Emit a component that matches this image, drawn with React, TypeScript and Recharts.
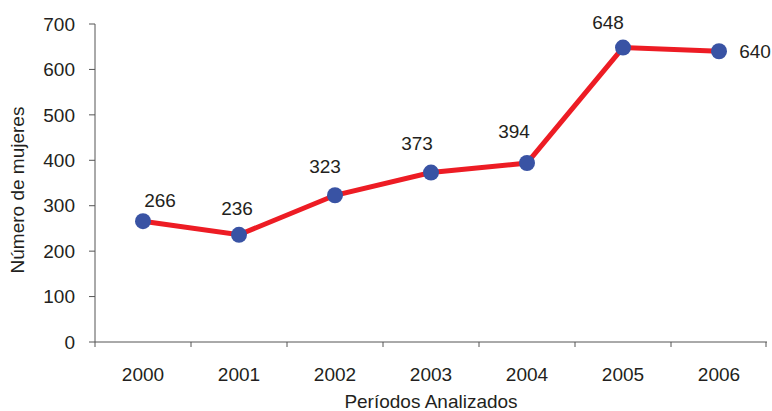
import { LineChart, Line, XAxis, YAxis } from "recharts";

// Número de mujeres por período
const years = ["2000", "2001", "2002", "2003", "2004", "2005", "2006"];
const mujeres = [266, 236, 323, 373, 394, 648, 640];
const yTicks = [0, 100, 200, 300, 400, 500, 600, 700];

const data = years.map((year, i) => ({ year, value: mujeres[i] }));

const ink = "#231F20";
const axisColor = "#555555";
const font = "'Liberation Sans', Arial, sans-serif";
const fs = 19;

// label nudges (Excel-ish placement), per point
const labelNudge = [
  [17, -21],
  [-2, -26],
  [-10, -29],
  [-14, -29],
  [-13, -32],
  [-15, -25],
  [36, 0],
];

function PointLabel(props: any) {
  const { x, y, value, index } = props;
  const [dx, dy] = labelNudge[index] ?? [0, -25];
  return (
    <text
      x={x + dx}
      y={y + dy}
      textAnchor="middle"
      dominantBaseline="central"
      fill={ink}
      fontSize={fs}
      fontFamily={font}
    >
      {value}
    </text>
  );
}

// category ticks sit between the bands, like the original
function YearTick(props: any) {
  const { x, y, payload, index, visibleTicksCount } = props;
  const half = payload.offset || 48;
  const last = index === (visibleTicksCount ?? years.length) - 1;
  return (
    <g>
      <line x1={x - half} x2={x - half} y1={y} y2={y + 5} stroke={axisColor} />
      {last && <line x1={x + half - 1} x2={x + half - 1} y1={y} y2={y + 5} stroke={axisColor} />}
      <text x={x} y={y + 39} textAnchor="middle" fill={ink} fontSize={fs} fontFamily={font}>
        {payload.value}
      </text>
    </g>
  );
}

export default function App() {
  return (
    <div style={{ position: "absolute", left: 0, top: 0, background: "#fff" }}>
      <LineChart width={772} height={411} data={data} margin={{ top: 24, right: 5, bottom: 0, left: 0 }}>
        <XAxis
          dataKey="year"
          scale="band"
          height={69}
          tickSize={0}
          tickMargin={0}
          tickLine={false}
          axisLine={{ stroke: axisColor }}
          tick={<YearTick />}
          interval={0}
          label={({ viewBox }: any) => (
            <text
              x={viewBox.x + viewBox.width / 2}
              y={viewBox.y + 66}
              textAnchor="middle"
              fill={ink}
              fontSize={fs}
              fontFamily={font}
            >
              Períodos Analizados
            </text>
          )}
        />
        <YAxis
          width={95}
          domain={[0, 700]}
          ticks={yTicks}
          interval={0}
          tickSize={6}
          tickMargin={14}
          tickLine={{ stroke: axisColor }}
          axisLine={{ stroke: axisColor }}
          tick={{ fill: ink, fontSize: fs, fontFamily: font }}
          label={() => (
            <text
              x={17}
              y={190}
              transform="rotate(-90 17 190)"
              textAnchor="middle"
              dominantBaseline="central"
              fill={ink}
              fontSize={fs}
              fontFamily={font}
            >
              Número de mujeres
            </text>
          )}
        />
        <Line
          dataKey="value"
          stroke="#ED1C24"
          strokeWidth={5}
          dot={{ r: 8, fill: "#3953A4", stroke: "#3953A4", strokeWidth: 0 }}
          label={<PointLabel />}
          isAnimationActive={false}
        />
      </LineChart>
    </div>
  );
}
